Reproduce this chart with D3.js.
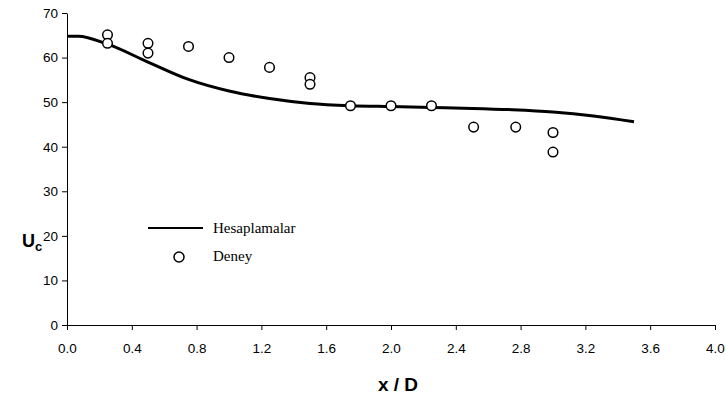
<!DOCTYPE html>
<html>
<head>
<meta charset="utf-8">
<script src="https://cdn.jsdelivr.net/npm/d3@7"></script>
<style>
  body { margin: 0; background: #fff; }
  svg { display: block; }
</style>
</head>
<body>
<div id="chart"></div>
<script>
// computed curve (Hesaplamalar)
const lineX = [0.0, 0.07, 0.25, 0.5, 0.75, 1.0, 1.25, 1.5, 1.75, 2.0, 2.25, 2.5, 2.75, 3.0, 3.25, 3.5];
const lineY = [64.8, 64.8, 63.0, 59.0, 55.1, 52.5, 50.8, 49.7, 49.2, 49.0, 48.8, 48.6, 48.3, 47.8, 46.9, 45.6];

// experiment (Deney)
const expX = [0.25, 0.25, 0.5, 0.5, 0.75, 1.0, 1.25, 1.5, 1.5, 1.75, 2.0, 2.25, 2.51, 2.77, 3.0, 3.0];
const expY = [65.1, 63.2, 63.2, 61.0, 62.5, 60.0, 57.8, 55.5, 54.0, 49.2, 49.2, 49.2, 44.4, 44.4, 43.2, 38.8];

const xTicks = [0.0, 0.4, 0.8, 1.2, 1.6, 2.0, 2.4, 2.8, 3.2, 3.6, 4.0];
const yTicks = [0, 10, 20, 30, 40, 50, 60, 70];

const W = 726, H = 399;
const margin = { top: 13, right: 11, bottom: 74, left: 67 };

const svg = d3.select('#chart').append('svg')
    .attr('width', W).attr('height', H);

const x = d3.scaleLinear().domain([0, 4]).range([margin.left, W - margin.right]);
const y = d3.scaleLinear().domain([0, 70]).range([H - margin.bottom, margin.top]);

// axes
const xAxis = svg.append('g')
    .attr('transform', 'translate(0,' + y(0) + ')')
    .call(d3.axisBottom(x).tickValues(xTicks).tickFormat(d3.format('.1f')).tickSize(5).tickSizeOuter(0));
xAxis.selectAll('text').attr('dy', '1.5em');

const yAxis = svg.append('g')
    .attr('transform', 'translate(' + x(0) + ',0)')
    .call(d3.axisLeft(y).tickValues(yTicks).tickSize(5).tickSizeOuter(0));

svg.selectAll('.domain, .tick line').attr('stroke', '#000').attr('stroke-width', 1);
svg.selectAll('.tick text')
    .attr('font-family', 'Liberation Sans, Arial, sans-serif')
    .attr('font-size', 13.5)
    .attr('fill', '#000');
yAxis.selectAll('text').attr('x', -9);

// curve
const line = d3.line()
    .x((d, i) => x(lineX[i]))
    .y(d => y(d))
    .curve(d3.curveMonotoneX);

svg.append('path')
    .datum(lineY)
    .attr('d', line)
    .attr('fill', 'none')
    .attr('stroke', '#000')
    .attr('stroke-width', 3);

// points
svg.selectAll('circle.exp')
    .data(expY)
    .join('circle')
    .attr('class', 'exp')
    .attr('cx', (d, i) => x(expX[i]))
    .attr('cy', d => y(d))
    .attr('r', 4.8)
    .attr('fill', '#fff')
    .attr('stroke', '#000')
    .attr('stroke-width', 1.5);

// axis titles
svg.append('text')
    .attr('x', 398).attr('y', 391)
    .attr('text-anchor', 'middle')
    .attr('font-family', 'Liberation Sans, Arial, sans-serif')
    .attr('font-weight', 'bold')
    .attr('font-size', 19)
    .text('x / D');

const yl = svg.append('text')
    .attr('x', 22).attr('y', 247)
    .attr('font-family', 'Liberation Sans, Arial, sans-serif')
    .attr('font-weight', 'bold')
    .attr('font-size', 18);
yl.append('tspan').text('U');
yl.append('tspan').attr('font-size', 13).attr('dy', 4).text('c');

// legend
const lg = svg.append('g');
lg.append('line')
    .attr('x1', 148).attr('x2', 203)
    .attr('y1', 228).attr('y2', 228)
    .attr('stroke', '#000').attr('stroke-width', 2);
lg.append('circle')
    .attr('cx', 179).attr('cy', 257).attr('r', 5)
    .attr('fill', '#fff').attr('stroke', '#000').attr('stroke-width', 1.5);
lg.append('text')
    .attr('x', 213).attr('y', 233)
    .attr('font-family', 'Liberation Serif, Times New Roman, serif')
    .attr('font-size', 15)
    .text('Hesaplamalar');
lg.append('text')
    .attr('x', 213).attr('y', 261)
    .attr('font-family', 'Liberation Serif, Times New Roman, serif')
    .attr('font-size', 15)
    .text('Deney');
</script>
</body>
</html>
